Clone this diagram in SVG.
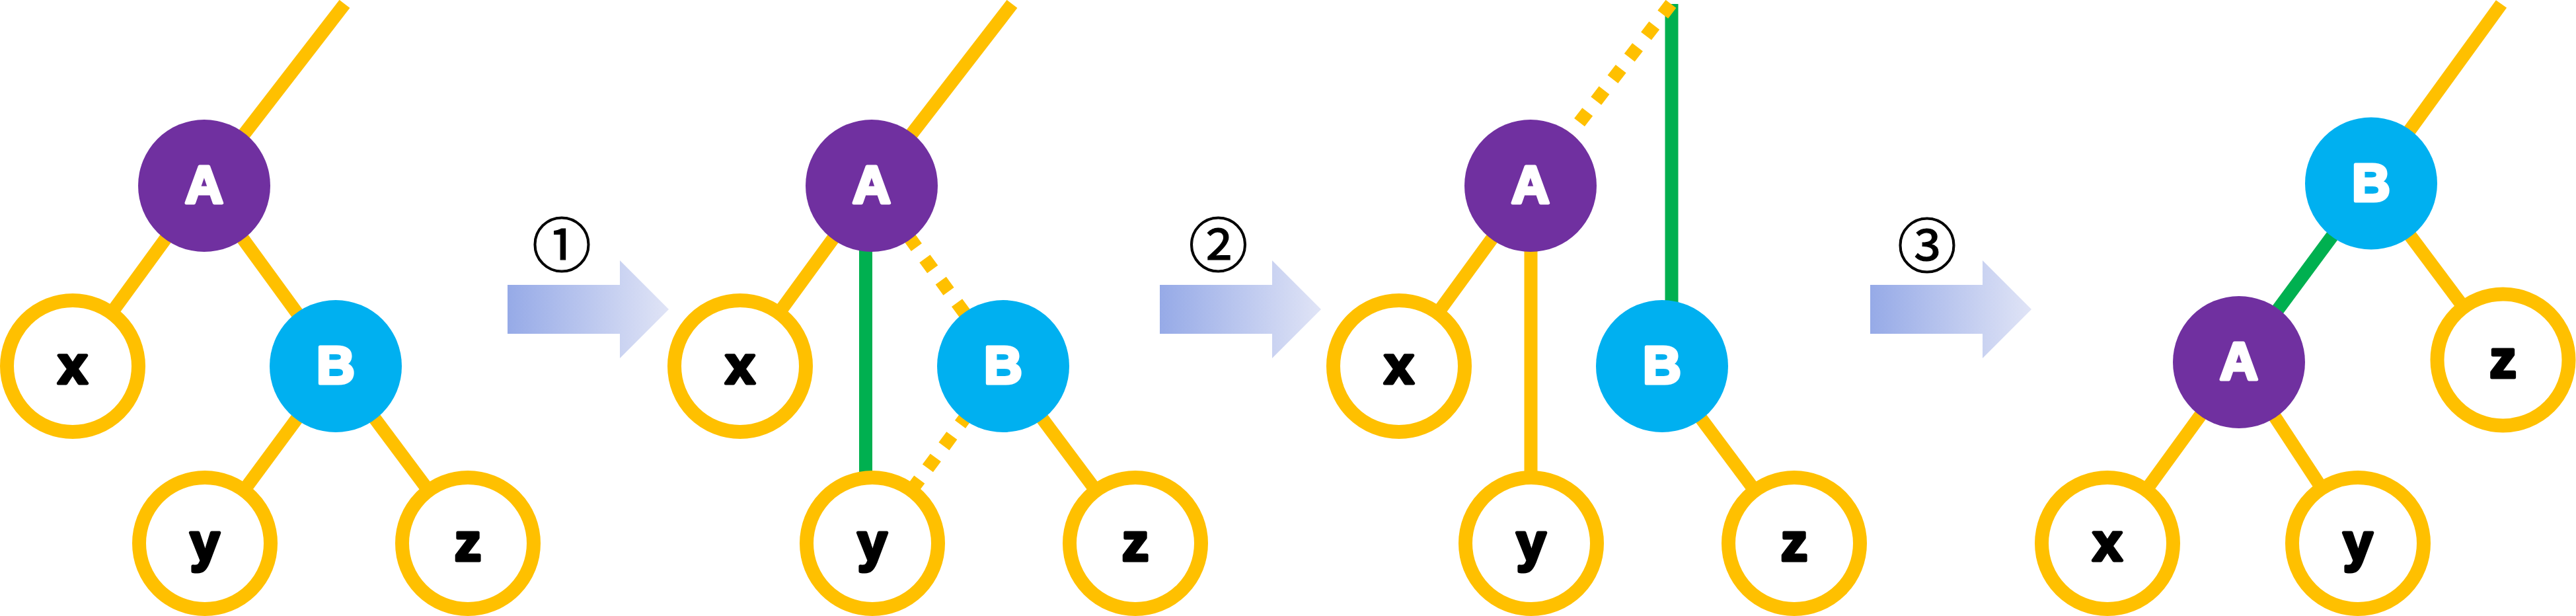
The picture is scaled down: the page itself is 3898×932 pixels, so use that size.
<svg xmlns="http://www.w3.org/2000/svg" width="3898" height="932" viewBox="0 0 3898 932">
<style>
.e{stroke:#FFC000;stroke-width:20;fill:none}
.g{stroke:#00B050;stroke-width:20;fill:none}
.d{stroke-dasharray:20 21.3}
.leaf{fill:#FFFFFF;stroke:#FFC000;stroke-width:21}
.pa{fill:#7030A0}
.bl{fill:#00B0F0}
.t{font-family:"Liberation Sans",Arial,sans-serif;font-weight:bold;font-size:80px;text-anchor:middle;stroke-width:5;stroke-linejoin:round}
.w{fill:#FFFFFF;stroke:#FFFFFF}
.k{fill:#000000;stroke:#000000}
.num{font-family:"Noto Sans CJK JP",sans-serif;font-size:90px;text-anchor:middle;fill:#000000;stroke:#000000;stroke-width:1.2}
.arrow{fill:url(#ag)}
</style>
<defs>
<linearGradient id="ag" x1="0" y1="0" x2="1" y2="0">
<stop offset="0" stop-color="#96AAE7"/>
<stop offset="1" stop-color="#E0E4F6"/>
</linearGradient>
<path id="arr" d="M0,431 H170 V394 L244,468 L170,542 V505 H0 Z"/>
</defs>
<rect width="3898" height="932" fill="#FFFFFF"/>

<g id="connectors">
<!-- tree 1 -->
<line class="e" x1="309" y1="281" x2="521.5" y2="6"/>
<line class="e" x1="309" y1="281" x2="110" y2="554"/>
<line class="e" x1="309" y1="281" x2="508" y2="554"/>
<line class="e" x1="508" y1="554" x2="310" y2="822"/>
<line class="e" x1="508" y1="554" x2="708" y2="822"/>
<!-- tree 2 -->
<line class="e" x1="1319" y1="281" x2="1531.5" y2="6"/>
<line class="e" x1="1319" y1="281" x2="1120" y2="554"/>
<line class="e d" x1="1319" y1="281" x2="1518" y2="554" stroke-dashoffset="28.7"/>
<line class="e d" x1="1518" y1="554" x2="1320" y2="822" stroke-dashoffset="34.5"/>
<line class="e" x1="1518" y1="554" x2="1718" y2="822"/>
<line class="g" x1="1310" y1="300" x2="1310" y2="760"/>
<!-- tree 3 -->
<line class="g" x1="2529.5" y1="6" x2="2529.5" y2="520"/>
<line class="e d" x1="2528.5" y1="6" x2="2316" y2="281"/>
<line class="e" x1="2316" y1="281" x2="2117" y2="554"/>
<line class="e" x1="2316.5" y1="281" x2="2316.5" y2="822"/>
<line class="e" x1="2515" y1="554" x2="2715" y2="822"/>
<!-- tree 4 -->
<line class="e" x1="3588" y1="277.5" x2="3785" y2="6"/>
<line class="g" x1="3588" y1="277.5" x2="3388" y2="548"/>
<line class="e" x1="3588" y1="277.5" x2="3787.5" y2="544.5"/>
<line class="e" x1="3388" y1="548" x2="3189" y2="822"/>
<line class="e" x1="3388" y1="548" x2="3568" y2="822"/>
</g>

<g id="t1-A"><circle class="pa" cx="309" cy="281" r="100"/><text class="t w" x="309" y="307">A</text></g>
<g id="t1-B"><circle class="bl" cx="508" cy="554" r="100"/><text class="t w" x="508" y="580">B</text></g>
<g id="t1-x"><circle class="leaf" cx="110" cy="554" r="99.5"/><text class="t k" x="110" y="580">x</text></g>
<g id="t1-y"><circle class="leaf" cx="310" cy="822" r="99.5"/><text class="t k" x="310" y="848">y</text></g>
<g id="t1-z"><circle class="leaf" cx="708" cy="822" r="99.5"/><text class="t k" x="708" y="848">z</text></g>

<g id="t2-A"><circle class="pa" cx="1319" cy="281" r="100"/><text class="t w" x="1319" y="307">A</text></g>
<g id="t2-B"><circle class="bl" cx="1518" cy="554" r="100"/><text class="t w" x="1518" y="580">B</text></g>
<g id="t2-x"><circle class="leaf" cx="1120" cy="554" r="99.5"/><text class="t k" x="1120" y="580">x</text></g>
<g id="t2-y"><circle class="leaf" cx="1320" cy="822" r="99.5"/><text class="t k" x="1320" y="848">y</text></g>
<g id="t2-z"><circle class="leaf" cx="1718" cy="822" r="99.5"/><text class="t k" x="1718" y="848">z</text></g>

<g id="t3-A"><circle class="pa" cx="2316" cy="281" r="100"/><text class="t w" x="2316" y="307">A</text></g>
<g id="t3-B"><circle class="bl" cx="2515" cy="554" r="100"/><text class="t w" x="2515" y="580">B</text></g>
<g id="t3-x"><circle class="leaf" cx="2117" cy="554" r="99.5"/><text class="t k" x="2117" y="580">x</text></g>
<g id="t3-y"><circle class="leaf" cx="2317" cy="822" r="99.5"/><text class="t k" x="2317" y="848">y</text></g>
<g id="t3-z"><circle class="leaf" cx="2715" cy="822" r="99.5"/><text class="t k" x="2715" y="848">z</text></g>

<g id="t4-B"><circle class="bl" cx="3588" cy="277.5" r="100"/><text class="t w" x="3588" y="303.5">B</text></g>
<g id="t4-A"><circle class="pa" cx="3388" cy="548" r="100"/><text class="t w" x="3388" y="574">A</text></g>
<g id="t4-z"><circle class="leaf" cx="3787.5" cy="544.5" r="99.5"/><text class="t k" x="3787.5" y="570.5">z</text></g>
<g id="t4-x"><circle class="leaf" cx="3189" cy="822" r="99.5"/><text class="t k" x="3189" y="848">x</text></g>
<g id="t4-y"><circle class="leaf" cx="3568" cy="822" r="99.5"/><text class="t k" x="3568" y="848">y</text></g>

<g id="step1"><use href="#arr" class="arrow" transform="translate(768,0)"/><text class="num" x="850" y="404">①</text></g>
<g id="step2"><use href="#arr" class="arrow" transform="translate(1755,0)"/><text class="num" x="1843.5" y="404">②</text></g>
<g id="step3"><use href="#arr" class="arrow" transform="translate(2830,0)"/><text class="num" x="2916" y="405">③</text></g>
</svg>
